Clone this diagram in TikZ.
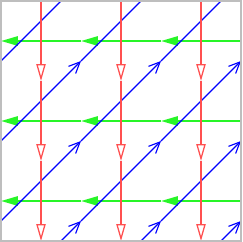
\documentclass[tikz,border=0pt]{standalone}
\usepackage{xcolor}
\usepackage{tikz}
\usetikzlibrary{arrows.meta}
\definecolor{downcolor}{RGB}{255,80,80}
\definecolor{leftcolor}{RGB}{40,245,40}
\definecolor{diagcolor}{RGB}{0,0,255}
\definecolor{framecolor}{RGB}{190,190,190}
\tikzset{
  downarr/.style={-{Triangle[length=6pt, width=3.3pt, fill=white,
                  line width=0.45pt]},
                  draw=downcolor, line width=0.7pt},
  leftarr/.style={-{Triangle[length=6pt, width=3.3pt]},
                  draw=leftcolor, fill=leftcolor, line width=0.7pt},
  diagarr/.style={-{Straight Barb[length=4pt, width=3.6pt]},
                  draw=diagcolor, line width=0.4pt},
  frame/.style={draw=framecolor, line width=0.7pt},
}

\begin{document}
\begin{tikzpicture}

  \useasboundingbox (-0.0125,-0.0125) rectangle (3.0125,3.0125);

  % Horizontal path (leftwards)
  \foreach \y in {0.5,1.5,2.5}
    \foreach \k in {0,1,2}
      \draw[leftarr] (\k+1,\y) -- (\k,\y);

  % Diagonal path, clipped to the square
  \begin{scope}
    \clip (0,0) rectangle (3,3);
    \foreach \i in {1,2,3}
      \foreach \j in {0,1,2,3}
        \draw[diagarr] (\i-1,\j-0.75) -- (\i,\j+0.25);
  \end{scope}

  % Vertical path (downwards)
  \foreach \x in {0.5,1.5,2.5}
    \foreach \k in {0,1,2}
      \draw[downarr] (\x,\k+1) -- (\x,\k);

  % Frame
  \draw[frame] (0,0) rectangle (3,3);

\end{tikzpicture}
\end{document}
